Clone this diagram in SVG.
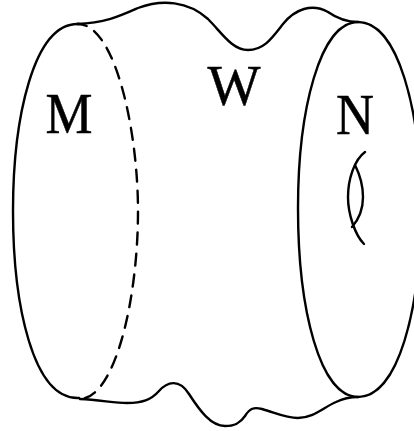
<svg xmlns="http://www.w3.org/2000/svg" width="414" height="431" viewBox="0 0 414 431">
<style>
.l{fill:none;stroke:#000;stroke-width:2.4;stroke-linecap:round}
.t{font-family:"Liberation Serif",serif;font-size:58px;fill:#000;stroke:#000;stroke-width:.5;text-anchor:middle}
</style>
<rect width="414" height="431" fill="#fff"/>
<g id="connectors">
<path class="l" d="M77 24C105 23 120 16 138 8C162 -1 188 1 208 19C222 33 232 50 248 50C264 50 272 38 283 24C295 9 312 3 328 12C338 19 347 22 358 22"/>
<path class="l" d="M80 399C100 400 115 403 127 403C142 403 151 400 159 391C167 382 179 378 189 394C200 411 211 426 225 426C236 426 241 422 245 416C250 408 254 407 262 409C276 413 286 418 298 418C314 418 324 407 336 402C344 398 350 397 358 397"/>
</g>
<g id="M">
<path class="l" d="M79 24C33 22 13 120 13 211C13 305 33 400 79 398"/>
<path class="l" stroke-dasharray="12 9" stroke-dashoffset="3" d="M78 24C115 24 138 130 138 211C138 300 115 398 80 399"/>
<text class="t" x="69" y="132.500" textLength="47" lengthAdjust="spacingAndGlyphs">M</text>
</g>
<g id="W"><text class="t" x="234" y="105" textLength="53" lengthAdjust="spacingAndGlyphs">W</text></g>
<g id="N">
<path class="l" d="M358 22C320 22 298 110 298 208C298 310 320 397 358 397C398 397 421 310 421 208C421 110 398 22 358 22"/>
<text class="t" x="355" y="134" textLength="38" lengthAdjust="spacingAndGlyphs">N</text>
<path class="l" d="M365 152C354 160 348 180 348 197C348 214 355 235 364 244"/>
<path class="l" d="M355 165C360 175 363 186 363 197C363 208 360 218 352 227"/>
</g>
</svg>
